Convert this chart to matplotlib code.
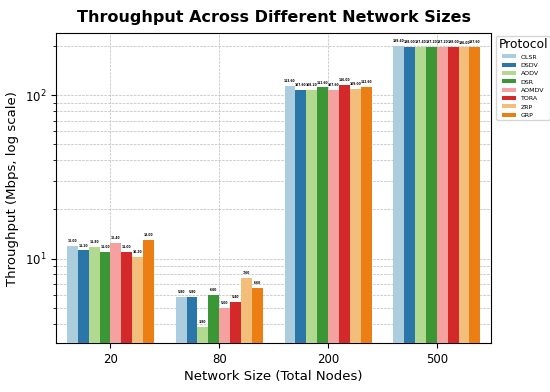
import numpy as np
import matplotlib
matplotlib.use("Agg")
import matplotlib.pyplot as plt
import seaborn as sns

# data
sizes = ["20", "80", "200", "500"]
protocols = ["OLSR", "DSDV", "AODV", "DSR", "AOMDV", "TORA", "ZRP", "GRP"]
olsr = [12.00, 5.80, 113.60, 199.40]
dsdv = [11.20, 5.80, 107.60, 198.00]
aodv = [11.80, 3.80, 108.20, 197.40]
dsr = [11.00, 6.00, 111.60, 197.20]
aomdv = [12.40, 5.00, 107.60, 197.20]
tora = [11.00, 5.40, 116.00, 198.00]
zrp = [10.20, 7.60, 109.00, 196.00]
grp = [13.00, 6.60, 112.60, 197.60]
series = [olsr, dsdv, aodv, dsr, aomdv, tora, zrp, grp]

colors = sns.color_palette("Paired", 8, desat=0.85)

fig, ax = plt.subplots(figsize=(5.5, 3.92), dpi=100)
fig.subplots_adjust(left=0.102, right=0.893, bottom=0.125, top=0.915)

x = np.arange(len(sizes))
w = 0.1
for i, (name, vals) in enumerate(zip(protocols, series)):
    pos = x + (i - 3.5) * w
    bars = ax.bar(pos, vals, w, color=colors[i], label=name, zorder=3)
    for b, v in zip(bars, vals):
        ax.text(b.get_x() + b.get_width() / 2, v * 1.04, f"{v:.2f}",
                ha="center", va="bottom", fontsize=2.2, fontweight="bold", zorder=4)

allv = [v for s in series for v in s]
ax.set_yscale("log")
ax.set_ylim(min(allv) * 0.8, max(allv) * 1.2)
ax.set_xlim(-0.5, 3.5)
ax.set_xticks(x)
ax.set_xticklabels(sizes, fontsize=8.5)
ax.tick_params(axis="y", labelsize=8.5)
ax.set_xlabel("Network Size (Total Nodes)", fontsize=9.5, labelpad=3)
ax.set_ylabel("Throughput (Mbps, log scale)", fontsize=9.5)
ax.set_title("Throughput Across Different Network Sizes", fontsize=11.5, fontweight="bold", pad=8)
ax.grid(True, which="both", linestyle="--", linewidth=0.5, color="#bbbbbb", zorder=0)

leg = ax.legend(title="Protocol", loc="upper left", bbox_to_anchor=(1.005, 1.0),
                fontsize=4.5, title_fontsize=8.8, handlelength=2.2, handleheight=0.6,
                borderpad=0.3)

fig.savefig("out.png", dpi=100)
